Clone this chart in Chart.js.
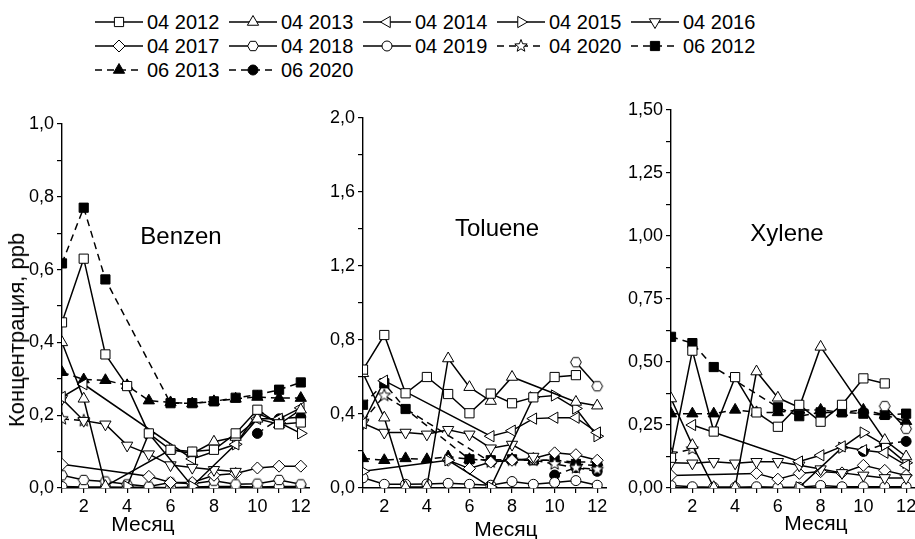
<!DOCTYPE html>
<html>
<head>
<meta charset="utf-8">
<script src="https://cdn.jsdelivr.net/npm/chart.js@4.4.1/dist/chart.umd.min.js"></script>
<style>
  body { margin: 0; width: 915px; height: 539px; overflow: hidden; background: #fff; position: relative;
         font-family: "Liberation Sans", Arial, sans-serif; color: #000; }
  canvas.panel { position: absolute; top: 90px; background: #fff; }
  .lbl { position: absolute; white-space: nowrap; line-height: 1; }
  .leg { position: absolute; display: flex; align-items: center; font-size: 20px; line-height: 1; white-space: nowrap; }
  .leg canvas { margin-right: 4px; }
</style>
</head>
<body>
<div id="legend"></div>
<canvas id="benzen" class="panel" width="330" height="449" style="left:0px"></canvas>
<canvas id="toluene" class="panel" width="316" height="449" style="left:310px"></canvas>
<canvas id="xylene" class="panel" width="328" height="449" style="left:607px"></canvas>

<div class="lbl" style="left:181px;top:236px;font-size:24px;transform:translate(-50%,-50%)">Benzen</div>
<div class="lbl" style="left:497px;top:228px;font-size:24px;transform:translate(-50%,-50%)">Toluene</div>
<div class="lbl" style="left:787px;top:233px;font-size:24px;transform:translate(-50%,-50%)">Xylene</div>
<div class="lbl" style="left:143px;top:523px;font-size:21px;transform:translate(-50%,-50%)">Месяц</div>
<div class="lbl" style="left:506px;top:528px;font-size:21px;transform:translate(-50%,-50%)">Месяц</div>
<div class="lbl" style="left:816px;top:522px;font-size:21px;transform:translate(-50%,-50%)">Месяц</div>
<div class="lbl" style="left:17px;top:330px;font-size:22px;transform:translate(-50%,-50%) rotate(-90deg)">Концентрация, ppb</div>

<script>
// months on the x axis
var months = [1, 2, 3, 4, 5, 6, 7, 8, 9, 10, 11, 12];
var seriesNames = ['04 2012', '04 2013', '04 2014', '04 2015', '04 2016', '04 2017',
                   '04 2018', '04 2019', '04 2020', '06 2012', '06 2013', '06 2020'];

// Benzen, ppb
var benzen_04_2012 = [0.455, 0.63, 0.367, 0.28, 0.15, 0.105, 0.10, 0.105, 0.15, 0.215, 0.175, 0.18];
var benzen_04_2013 = [0.40, 0.245, 0.005, null, null, 0.105, 0.095, 0.127, 0.14, 0.19, 0.175, 0.215];
var benzen_04_2014 = [0.25, 0.285, null, null, null, null, 0.08, null, 0.12, 0.19, 0.19, 0.22];
var benzen_04_2015 = [null, null, null, 0.005, 0.15, null, 0.005, null, 0.12, 0.205, 0.18, 0.15];
var benzen_04_2016 = [0.245, 0.185, 0.175, 0.117, 0.093, 0.063, 0.056, 0.05, 0.045, null, null, null];
var benzen_04_2017 = [0.065, null, null, null, 0.032, 0.015, 0.015, 0.035, 0.04, 0.055, 0.06, 0.06];
var benzen_04_2018 = [0.035, 0.022, 0.018, 0.01, 0.004, 0.015, 0.012, 0.02, 0.01, 0.012, 0.022, 0.01];
var benzen_04_2019 = [0.004, 0.003, 0.003, 0.002, 0.002, 0.001, 0.003, 0.004, 0.004, 0.003, 0.004, 0.004];
var benzen_04_2020 = [0.19, 0.185, null, null, null, null, null, null, null, null, null, null];
var benzen_06_2012 = [0.617, 0.77, 0.573, null, null, 0.233, 0.233, 0.238, 0.248, 0.256, 0.27, 0.29];
var benzen_06_2013 = [0.318, 0.298, 0.296, 0.282, 0.24, 0.235, 0.232, 0.238, 0.245, 0.25, 0.247, 0.247];
var benzen_06_2020 = [null, null, null, null, null, null, null, null, null, 0.15, 0.19, 0.195];

// Toluene, ppb
var toluene_04_2012 = [0.64, 0.827, 0.512, 0.60, 0.508, 0.404, 0.51, 0.458, 0.49, 0.60, 0.61, null];
var toluene_04_2013 = [0.62, 0.38, 0.005, 0.005, 0.70, 0.545, 0.47, 0.60, null, null, 0.465, 0.445];
var toluene_04_2014 = [0.35, 0.58, null, null, null, null, 0.28, 0.31, 0.375, 0.38, 0.38, 0.30];
var toluene_04_2015 = [0.09, null, null, null, 0.15, null, 0.005, null, 0.49, 0.50, 0.43, 0.28];
var toluene_04_2016 = [0.35, 0.30, 0.30, 0.29, 0.315, 0.29, 0.215, 0.235, 0.17, null, null, null];
var toluene_04_2017 = [null, null, null, null, 0.15, 0.105, 0.14, 0.15, 0.16, 0.19, 0.18, 0.15];
var toluene_04_2018 = [null, null, null, null, null, null, null, null, null, null, 0.68, 0.55];
var toluene_04_2019 = [0.055, 0.02, 0.02, 0.022, 0.025, 0.02, 0.015, 0.035, 0.02, 0.03, 0.04, 0.015];
var toluene_04_2020 = [0.36, 0.50, null, null, null, null, 0.14, 0.15, 0.15, 0.13, 0.11, 0.10];
var toluene_06_2012 = [0.45, 0.566, 0.427, null, null, 0.155, 0.15, 0.155, 0.15, 0.15, 0.13, 0.12];
var toluene_06_2013 = [0.16, 0.15, 0.16, 0.155, 0.17, 0.155, 0.15, 0.155, 0.15, 0.15, 0.14, 0.14];
var toluene_06_2020 = [null, null, null, null, null, null, null, null, null, 0.07, 0.11, 0.09];

// Xylene, ppb
var xylene_04_2012 = [0.12, 0.545, 0.224, 0.44, 0.30, 0.243, 0.33, 0.263, 0.33, 0.435, 0.415, null];
var xylene_04_2013 = [0.355, 0.17, 0.003, 0.003, 0.462, 0.358, 0.32, 0.56, null, null, 0.19, 0.125];
var xylene_04_2014 = [null, 0.25, null, null, null, null, 0.105, 0.13, 0.165, 0.15, 0.14, 0.09];
var xylene_04_2015 = [null, null, null, null, null, null, 0.003, null, 0.16, 0.22, 0.17, 0.10];
var xylene_04_2016 = [0.10, 0.098, 0.104, 0.098, 0.104, 0.104, 0.09, 0.075, 0.06, 0.05, 0.04, 0.04];
var xylene_04_2017 = [0.05, null, null, null, 0.058, 0.035, 0.058, 0.065, 0.06, 0.09, 0.07, 0.05];
var xylene_04_2018 = [null, null, null, null, null, null, null, null, null, null, 0.325, 0.235];
var xylene_04_2019 = [0.01, 0.005, 0.003, 0.003, 0.005, 0.003, 0.003, 0.01, 0.005, 0.005, 0.005, 0.005];
var xylene_04_2020 = [0.135, 0.155, null, null, null, null, null, null, null, null, null, null];
var xylene_06_2012 = [0.60, 0.575, 0.48, null, null, 0.32, 0.285, 0.30, 0.30, 0.295, 0.29, 0.295];
var xylene_06_2013 = [0.295, 0.295, 0.295, 0.31, 0.30, 0.30, 0.31, 0.31, 0.30, 0.31, 0.29, 0.265];
var xylene_06_2020 = [null, null, null, null, null, null, null, null, null, 0.145, 0.175, 0.185];

var benzenData = [benzen_04_2012, benzen_04_2013, benzen_04_2014, benzen_04_2015, benzen_04_2016, benzen_04_2017,
                  benzen_04_2018, benzen_04_2019, benzen_04_2020, benzen_06_2012, benzen_06_2013, benzen_06_2020];
var tolueneData = [toluene_04_2012, toluene_04_2013, toluene_04_2014, toluene_04_2015, toluene_04_2016, toluene_04_2017,
                   toluene_04_2018, toluene_04_2019, toluene_04_2020, toluene_06_2012, toluene_06_2013, toluene_06_2020];
var xyleneData = [xylene_04_2012, xylene_04_2013, xylene_04_2014, xylene_04_2015, xylene_04_2016, xylene_04_2017,
                  xylene_04_2018, xylene_04_2019, xylene_04_2020, xylene_06_2012, xylene_06_2013, xylene_06_2020];

// custom markers (hexagon, star) drawn on small canvases
function polyMarker(n, rOut, rIn, filled, rot) {
    var size = Math.ceil(rOut * 2) + 3;
    var c = document.createElement('canvas');
    c.width = size; c.height = size;
    var g = c.getContext('2d');
    var cx = size / 2, cy = size / 2;
    var pts = rIn ? n * 2 : n;
    g.beginPath();
    for (var i = 0; i < pts; i++) {
        var r = (rIn && i % 2) ? rIn : rOut;
        var a = rot + i * 2 * Math.PI / pts;
        var px = cx + r * Math.cos(a), py = cy + r * Math.sin(a);
        if (i === 0) g.moveTo(px, py); else g.lineTo(px, py);
    }
    g.closePath();
    g.fillStyle = filled ? '#000' : '#fff';
    g.fill();
    g.lineWidth = 1;
    g.strokeStyle = '#000';
    g.stroke();
    return c;
}
var hexagon = polyMarker(6, 5.4, 0, false, 0);
var star = polyMarker(5, 6.5, 2.8, false, -Math.PI / 2);

var styles = [
    { pt: 'rect', r: 6.5, rot: 0, fill: false, dash: false },
    { pt: 'triangle', r: 6.5, rot: 0, fill: false, dash: false },
    { pt: 'triangle', r: 6.5, rot: 270, fill: false, dash: false },
    { pt: 'triangle', r: 6.5, rot: 90, fill: false, dash: false },
    { pt: 'triangle', r: 6.5, rot: 180, fill: false, dash: false },
    { pt: 'rectRot', r: 6, rot: 0, fill: false, dash: false },
    { pt: hexagon, r: 5, rot: 0, fill: false, dash: false },
    { pt: 'circle', r: 5, rot: 0, fill: false, dash: false },
    { pt: star, r: 6, rot: 0, fill: false, dash: true },
    { pt: 'rect', r: 6.5, rot: 0, fill: true, dash: true },
    { pt: 'triangle', r: 6.5, rot: 0, fill: true, dash: true },
    { pt: 'circle', r: 5, rot: 0, fill: true, dash: true }
];

function fmt(v, d) { return v.toFixed(d).replace('.', ','); }

function makePanel(id, data, axisW, padTop, padRight, yMax, yStep, yEvery, dec) {
    var datasets = data.map(function(arr, i) {
        var s = styles[i];
        return {
            label: seriesNames[i],
            data: months.map(function(m, k) { return { x: m, y: arr[k] }; }),
            borderColor: '#000',
            borderWidth: 1.5,
            borderDash: s.dash ? [7, 5] : [],
            pointStyle: s.pt,
            pointRadius: s.r,
            pointRotation: s.rot,
            pointBorderWidth: 1,
            pointBorderColor: '#000',
            pointBackgroundColor: s.fill ? '#000' : '#fff',
            fill: false,
            tension: 0,
            spanGaps: true
        };
    });
    new Chart(document.getElementById(id), {
        type: 'line',
        data: { datasets: datasets },
        options: {
            responsive: false,
            animation: false,
            layout: { padding: { top: padTop, right: padRight, left: 0, bottom: 0 } },
            plugins: { legend: { display: false }, tooltip: { enabled: false } },
            scales: {
                x: {
                    type: 'linear', min: 1, max: 13,
                    afterFit: function(s) { s.height = 51; },
                    border: { color: '#000', width: 1.4 },
                    grid: { drawOnChartArea: false, drawTicks: true, tickLength: 5, color: '#000', lineWidth: 1.2 },
                    ticks: {
                        stepSize: 1, autoSkip: false, maxRotation: 0, padding: 3, color: '#000',
                        font: { family: 'Liberation Sans', size: 18 },
                        callback: function(v) { return v % 2 === 0 && v <= 12 ? String(v) : ''; }
                    }
                },
                y: {
                    min: 0, max: yMax,
                    afterFit: function(s) { s.width = axisW; },
                    border: { color: '#000', width: 1.4 },
                    grid: { drawOnChartArea: false, drawTicks: true, tickLength: 5, color: '#000', lineWidth: 1.2 },
                    ticks: {
                        stepSize: yStep, autoSkip: false, padding: 3, color: '#000',
                        font: { family: 'Liberation Sans', size: 18 },
                        callback: function(v) {
                            var q = v / yEvery;
                            return Math.abs(q - Math.round(q)) < 1e-6 ? fmt(v, dec) : '';
                        }
                    }
                }
            }
        }
    });
}

makePanel('benzen', benzenData, 62, 34, 3, 1.0, 0.1, 0.2, 1);
makePanel('toluene', tolueneData, 53, 28, 3, 2.0, 0.2, 0.4, 1);
makePanel('xylene', xyleneData, 64, 20, 3, 1.5, 0.125, 0.25, 2);

// legend in three rows
var legendX = [95, 229, 363, 497, 631];
var legendY = [22, 46, 70];
var legendBox = document.getElementById('legend');
seriesNames.forEach(function(name, i) {
    var s = styles[i];
    var item = document.createElement('div');
    item.className = 'leg';
    item.style.left = legendX[i % 5] + 'px';
    item.style.top = (legendY[Math.floor(i / 5)] - 10) + 'px';
    var c = document.createElement('canvas');
    c.width = 48; c.height = 20;
    var g = c.getContext('2d');
    g.strokeStyle = '#000';
    g.lineWidth = 1.5;
    g.setLineDash(s.dash ? [7, 5] : []);
    g.beginPath(); g.moveTo(0, 10); g.lineTo(48, 10); g.stroke();
    g.setLineDash([]);
    g.fillStyle = s.fill ? '#000' : '#fff';
    g.lineWidth = 1;
    Chart.helpers.drawPoint(g, { pointStyle: s.pt, radius: s.r, rotation: s.rot, borderWidth: 1 }, 24, 10);
    item.appendChild(c);
    var t = document.createElement('span');
    t.textContent = name;
    item.appendChild(t);
    legendBox.appendChild(item);
});
</script>
</body>
</html>
